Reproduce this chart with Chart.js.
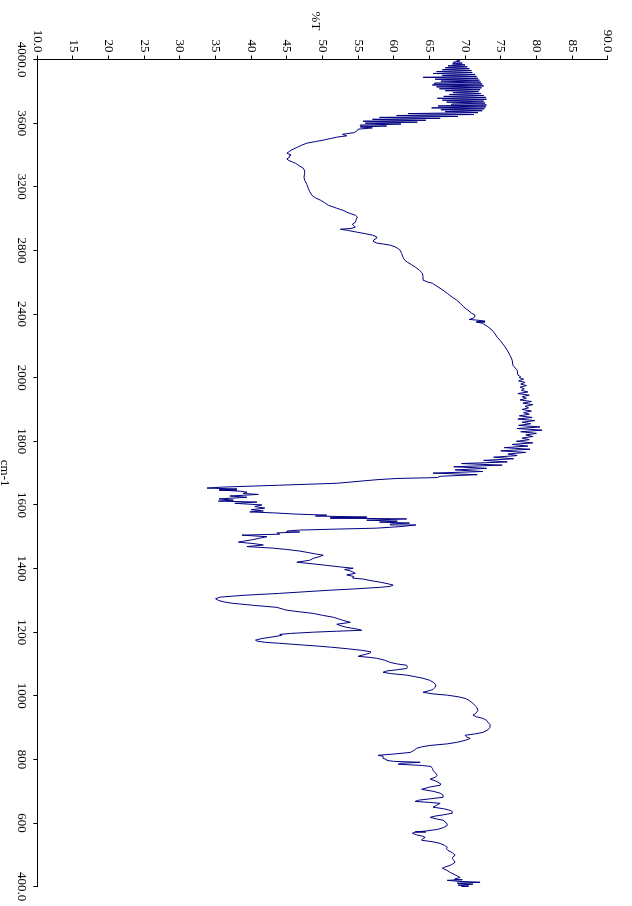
<!DOCTYPE html>
<html><head><meta charset="utf-8">
<script src="https://cdn.jsdelivr.net/npm/chart.js@4/dist/chart.umd.min.js"></script>
<style>
html,body{margin:0;padding:0;overflow:hidden;background:#fff;width:632px;height:906px;}
#wrap{position:absolute;left:0;top:0;width:906px;height:632px;transform-origin:0 0;transform:translate(632px,0) rotate(90deg);}
canvas{display:block;}
</style></head><body>
<div id="wrap"><canvas id="c" width="906" height="632"></canvas></div>
<script>
// ---- tick labels ----
const xTickValues = [4000,3600,3200,2800,2400,2000,1800,1600,1400,1200,1000,800,600,400];
const xTickLabels = ["4000.0","3600","3200","2800","2400","2000","1800","1600","1400","1200","1000","800","600","400.0"];
const yTickValues = [10,15,20,25,30,35,40,45,50,55,60,65,70,75,80,85,90];
const yTickLabels = ["10.0","15","20","25","30","35","40","45","50","55","60","65","70","75","80","85","90.0"];
const xTitle = "cm-1";
const yTitle = "%T";
const scaleBreak = 2000; // below this wavenumber the axis is expanded x2

// ---- spectrum: [wavenumber cm-1, %T] ----
const bandOH = [
[3996,68.8],[3990,69.3],[3984,68.4],[3978,69.6],[3972,68.2],[3966,70.0],[3960,67.6],[3954,70.3],
[3948,67.2],[3942,70.6],[3936,66.8],[3930,70.9],[3924,66.0],[3918,71.0],[3912,65.5],[3906,71.4],
[3900,66.8],[3894,71.6],[3888,64.1],[3882,71.8],[3876,65.8],[3870,72.0],[3864,66.6],[3858,72.2],
[3852,65.7],[3846,72.4],[3840,65.4],[3834,72.6],[3828,66.0],[3822,72.3],[3816,66.4],[3810,72.1],
[3804,67.2],[3798,71.9],[3792,68.3],[3786,72.2],[3780,67.8],[3774,72.6],[3768,67.0],[3762,72.9],
[3756,66.1],[3750,73.0],[3744,66.8],[3738,72.6],[3732,67.4],[3726,72.8],[3720,68.1],[3714,73.0],
[3708,66.2],[3702,72.9],[3696,65.3],[3690,72.7],[3684,66.6],[3678,72.4],[3672,67.2],[3666,71.8],
[3660,62.0],[3654,71.2],[3648,60.4],[3642,69.0],[3636,58.0],[3630,66.5],[3624,57.0],[3618,64.5],
[3612,55.7],[3606,63.3],[3600,56.0],[3594,61.0],[3588,55.3],[3582,59.0],[3576,55.3],[3570,57.0],
[3562,55.0]
];
const bandCH = [
[3550,54.8],[3540,54.4],[3530,52.8],[3520,53.4],[3512,52.0],[3505,51.3],[3493,50.1],[3484,49.0],
[3474,47.8],[3460,47.0],[3449,46.5],[3430,45.6],[3417,45.2],[3411,45.0],[3400,45.6],[3393,45.3],
[3386,45.4],[3375,45.0],[3367,45.2],[3355,45.8],[3348,46.2],[3330,46.8],[3317,47.3],[3300,47.5],
[3285,47.5],[3260,47.4],[3241,47.5],[3215,47.8],[3191,48.0],[3170,48.2],[3147,48.5],[3130,49.0],
[3116,49.7],[3100,50.3],[3084,50.8],[3065,52.0],[3050,53.0],[3040,53.4],[3030,54.0],[3021,54.6],
[3010,54.9],[3003,54.8],[2990,54.7],[2977,54.6],[2965,54.2],[2959,54.3],[2946,54.6],[2938,54.0],
[2933,52.5],[2926,53.5],[2915,54.8],[2905,56.0],[2896,57.0],[2885,57.6],[2877,57.6],[2866,57.2],
[2858,57.1],[2846,57.6],[2840,58.5],[2833,59.5],[2820,60.3],[2801,60.9],[2780,61.1],[2757,61.3],
[2740,61.5],[2726,61.9],[2710,62.5],[2695,63.0],[2675,63.6],[2657,64.0],[2635,64.1],[2613,64.1],
[2600,64.8],[2594,65.4],[2570,66.2],[2550,66.9],[2530,67.5],[2506,68.2],[2488,68.8],[2468,69.3],
[2445,69.8],[2424,70.4],[2405,70.9],[2393,71.4],[2380,71.3],[2374,71.1],[2366,70.6],[2361,71.8],
[2355,72.8],[2350,71.6],[2342,72.4],[2320,73.2],[2298,73.8],[2275,74.2],[2254,74.5],[2235,74.9],
[2200,75.5],[2173,75.9],[2140,76.3],[2110,76.6],[2078,76.7],[2047,77.3],[2016,77.4],[2005,77.8]
];
const bandCO = [
[2000,77.6],[1995,78.2],[1990,77.5],[1985,78.4],[1980,77.8],[1975,78.6],[1970,77.7],[1965,78.3],
[1960,77.9],[1955,78.8],[1950,77.4],[1945,79.0],[1940,78.0],[1935,78.6],[1930,77.7],[1925,79.3],
[1920,78.1],[1915,79.5],[1910,78.4],[1905,78.9],[1900,78.0],[1895,79.3],[1890,78.2],[1885,79.0],
[1880,77.6],[1875,79.4],[1870,77.4],[1865,79.8],[1860,78.0],[1855,79.2],[1850,77.5],[1845,80.5],
[1840,77.3],[1835,80.8],[1830,77.8],[1825,80.0],[1820,78.5],[1815,79.5],[1810,78.0],[1805,79.0],
[1800,77.2],[1795,79.5],[1790,76.6],[1785,78.8],[1780,75.5],[1775,79.1],[1770,75.0],[1765,78.5],
[1760,76.0],[1755,77.3],[1750,74.0],[1745,76.8],[1740,72.6],[1735,75.9],[1730,69.5],[1725,75.2],
[1720,68.4],[1715,73.0],[1710,68.6],[1705,72.5],[1700,65.5],[1695,71.7],[1690,66.5],[1686,66.1],
[1683,60.3],[1679,57.5],[1672,54.0],[1668,52.0],[1662,44.0],[1656,36.0],[1653,33.8],[1650,38.0],
[1647,35.5],[1643,38.5],[1640,39.4],[1636,38.9],[1633,41.0],[1628,37.0],[1624,39.4],[1619,35.5],
[1615,37.5],[1612,35.4],[1609,40.8],[1605,37.7],[1600,41.5],[1595,40.5],[1590,41.9],[1585,40.0],
[1581,41.7],[1578,39.8],[1575,43.1],[1571,46.4],[1568,50.6],[1565,49.0],[1562,56.2],[1559,51.1],
[1556,61.8],[1552,56.2],[1549,60.5],[1546,58.0],[1543,62.2],[1540,59.5],[1537,63.1],[1532,61.0],
[1527,57.6],[1524,52.0],[1521,46.8],[1518,45.0],[1515,46.8],[1512,43.6],[1508,44.0],[1505,38.7],
[1500,42.2],[1496,41.3],[1490,40.0],[1486,38.9],[1483,38.2],[1478,40.5],[1474,41.7],[1469,39.4],
[1464,43.1],[1460,45.0],[1455,46.8],[1451,47.8],[1446,49.0],[1442,50.1],[1437,49.5],[1432,48.7],
[1426,48.2],[1420,46.4],[1415,48.5],[1410,50.6],[1405,52.5],[1401,54.3],[1397,53.1],[1392,54.0],
[1385,54.6],[1380,53.4],[1375,54.4],[1370,54.2],[1367,55.7],[1362,56.8],[1357,58.1],[1352,59.2],
[1348,59.9],[1344,59.5],[1341,58.1],[1336,54.5],[1332,51.1],[1327,47.5],[1322,44.0],[1316,39.0],
[1310,35.6],[1305,35.0],[1300,35.4],[1295,36.2],[1291,37.3],[1284,40.5],[1278,43.6],[1272,44.5],
[1269,45.0],[1264,46.8],[1259,48.7],[1253,50.0],[1247,51.5],[1242,52.2],[1237,52.9],[1231,53.9],
[1228,53.0],[1225,52.0],[1220,52.6],[1215,53.4],[1210,54.8],[1206,55.5],[1203,52.0],[1200,48.7],
[1196,45.5],[1193,44.0],[1190,44.3],[1185,43.0],[1180,41.5],[1175,40.6],[1172,40.8],[1168,42.0],
[1165,44.0],[1160,47.0],[1156,49.5],[1153,51.1],[1148,53.5],[1143,55.5],[1138,56.8],[1134,56.6],
[1130,56.0],[1126,55.2],[1124,55.0],[1121,56.5],[1118,57.6],[1112,58.7],[1105,59.5],[1100,60.5],
[1096,61.8],[1090,61.9],[1086,61.8],[1082,60.5],[1078,59.0],[1074,58.5],[1070,59.5],[1065,61.8],
[1060,63.0],[1055,64.1],[1049,65.0],[1043,65.5],[1035,65.9],[1027,65.8],[1020,65.5],[1017,65.1],
[1011,64.1],[1006,65.5],[1002,67.5]
];
const bandFinger = [
[997,69.0],[992,70.0],[985,70.6],[976,71.1],[965,71.6],[954,71.8],[945,71.5],[939,71.1],
[934,71.6],[929,72.5],[923,73.0],[917,73.2],[909,73.5],[901,73.5],[893,73.2],[885,72.5],
[880,71.3],[876,70.0],[871,70.2],[866,70.7],[860,70.0],[854,68.9],[849,67.5],[844,65.1],
[840,64.0],[835,63.2],[828,62.8],[822,62.3],[817,60.0],[813,57.8],[810,58.5],[807,58.5],
[803,58.5],[800,59.0],[797,59.0],[794,60.0],[791,63.7],[788,61.0],[785,60.6],[781,64.0],
[778,65.2],[772,65.4],[766,65.5],[758,65.8],[750,66.1],[744,65.8],[738,65.1],[733,65.8],
[728,66.2],[723,66.6],[719,66.5],[713,65.0],[706,63.9],[700,65.5],[694,66.5],[688,66.9],
[681,66.9],[676,65.0],[672,63.5],[668,63.0],[665,65.0],[662,66.5],[656,66.0],[650,65.5],
[645,67.0],[640,67.9],[636,68.2],[631,68.2],[626,67.0],[622,65.8],[618,65.1],[613,66.0],
[609,66.9],[600,67.4],[593,67.5],[586,67.0],[580,66.1],[575,64.5],[572,63.0],[568,62.6],
[563,63.2],[559,64.0],[555,64.4],[550,64.0],[546,63.9],[541,65.5],[536,66.5],[530,67.1],
[524,67.5],[519,67.4],[514,67.6],[507,68.2],[499,68.6],[494,68.3],[489,68.2],[483,68.4],
[477,68.6],[472,68.3],[467,67.9],[462,67.2],[458,66.8],[452,67.4],[445,67.9],[437,68.6],
[429,69.3],[424,68.5],[422,69.6],[420,67.5],[417,69.0],[414,72.1],[411,68.9],[408,71.1],
[405,69.0],[402,70.5],[400,69.5]
];

// ---- axis mapping with scale change at 2000 cm-1 ----
function toAxis(w){ return w >= scaleBreak ? (4000 - w) : (4000 - scaleBreak) + (scaleBreak - w) * 2; }

const spectrum = [].concat(bandOH, bandCH, bandCO, bandFinger).map(([w,t]) => ({x: toAxis(w), y: t}));

const fontFamily = '"Liberation Serif", "Times New Roman", serif';

const titlePlugin = {
  id: 'axisTitles',
  afterDraw(chart){
    const ctx = chart.ctx, a = chart.chartArea;
    ctx.save();
    ctx.font = '13px ' + fontFamily;
    ctx.fillStyle = '#000';
    ctx.textAlign = 'center';
    ctx.textBaseline = 'middle';
    ctx.fillText(yTitle, 21, (a.top + a.bottom) / 2 + 7.5);
    ctx.textBaseline = 'alphabetic';
    ctx.fillText(xTitle, (a.left + a.right) / 2, 631);
    ctx.restore();
  }
};

new Chart(document.getElementById('c'), {
  type: 'line',
  data: { datasets: [{
    data: spectrum,
    borderColor: '#000080',
    borderWidth: 1,
    pointRadius: 0,
    tension: 0,
    fill: false
  }]},
  options: {
    responsive: false,
    animation: false,
    devicePixelRatio: 1,
    events: [],
    layout: { padding: { top: 24.3, right: 19.3, left: 0, bottom: 0 } },
    plugins: { legend: { display: false }, tooltip: { enabled: false } },
    scales: {
      x: {
        type: 'linear',
        min: toAxis(4000), max: toAxis(400),
        afterBuildTicks: s => { s.ticks = xTickValues.map(v => ({ value: toAxis(v) })); },
        afterFit: s => { s.height = 37.3; },
        ticks: { autoSkip: false, maxRotation: 0, minRotation: 0, padding: 4, color: '#000',
          font: { family: fontFamily, size: 13 }, callback: (v, i) => xTickLabels[i] },
        grid: { display: true, drawOnChartArea: false, drawTicks: true, tickLength: 4, color: '#000', lineWidth: 1 },
        border: { display: true, color: '#000', width: 1 }
      },
      y: {
        type: 'linear',
        min: 10, max: 90,
        afterBuildTicks: s => { s.ticks = yTickValues.map(v => ({ value: v })); },
        afterFit: s => { s.width = 59.5; },
        ticks: { autoSkip: false, maxRotation: 0, minRotation: 0, padding: 3, color: '#000',
          font: { family: fontFamily, size: 13 }, callback: (v, i) => yTickLabels[i] },
        grid: { display: true, drawOnChartArea: false, drawTicks: true, tickLength: 4, color: '#000', lineWidth: 1 },
        border: { display: true, color: '#000', width: 1 }
      }
    }
  },
  plugins: [titlePlugin]
});
</script>
</body></html>
